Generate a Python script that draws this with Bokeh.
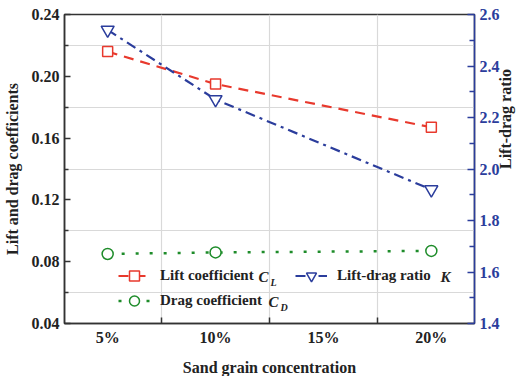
import math
from bokeh.plotting import figure
from bokeh.models import (Range1d, LinearAxis, FixedTicker, Legend, LegendItem,
                          Label, PrintfTickFormatter)
from bokeh.embed import file_html
from bokeh.resources import INLINE

# ---- data ----
conc = [5, 10, 20]
conc_ticks = [5, 10, 15, 20]
conc_labels = ["5%", "10%", "15%", "20%"]
lift = [0.216, 0.195, 0.167]
drag = [0.085, 0.086, 0.087]
ratio = [2.54, 2.27, 1.92]
left_ticks = [0.04, 0.08, 0.12, 0.16, 0.20, 0.24]
left_minor = [0.06, 0.10, 0.14, 0.18, 0.22]
right_ticks = [1.4, 1.6, 1.8, 2.0, 2.2, 2.4, 2.6]
right_minor = [1.5, 1.7, 1.9, 2.1, 2.3, 2.5]
x_minor = [7.5, 12.5, 17.5]

RED = "#e8392d"
BLUE = "#2b3d9c"
GREEN = "#1e8c2a"
AX = "#333333"
TXT = "#222222"
FONT = "Liberation Serif"

FW, FH = 410, 309
X0, X1 = 3, 22
Y0, Y1 = 0.04, 0.24

p = figure(frame_width=FW, frame_height=FH, x_range=Range1d(X0, X1),
           y_range=Range1d(Y0, Y1), output_backend="svg", toolbar_location=None,
           min_border_left=57, min_border_right=42, min_border_top=14,
           min_border_bottom=37)
p.extra_y_ranges = {"k": Range1d(1.4, 2.6)}
p.outline_line_color = AX
p.outline_line_width = 1.5
p.background_fill_color = "white"

# x axis
xa = p.xaxis[0]
xa.ticker = FixedTicker(ticks=conc_ticks, minor_ticks=x_minor)
xa.major_label_overrides = {t: l for t, l in zip(conc_ticks, conc_labels)}
xa.axis_label = "Sand grain concentration"

# left axis
ya = p.yaxis[0]
ya.ticker = FixedTicker(ticks=left_ticks, minor_ticks=left_minor)
ya.formatter = PrintfTickFormatter(format="%.2f")
ya.axis_label = "Lift and drag coefficients"

# right axis
ra = LinearAxis(y_range_name="k",
                ticker=FixedTicker(ticks=right_ticks, minor_ticks=right_minor),
                formatter=PrintfTickFormatter(format="%.1f"),
                axis_label="Lift-drag ratio")
p.add_layout(ra, "right")

for ax in (xa, ya, ra):
    ax.axis_line_width = 1.5
    ax.axis_line_color = AX
    ax.major_tick_line_color = AX
    ax.minor_tick_line_color = AX
    ax.major_tick_line_width = 1.5
    ax.minor_tick_line_width = 1.5
    ax.major_tick_out = 0
    ax.minor_tick_out = 0
    ax.major_tick_in = 6
    ax.minor_tick_in = 4
    ax.major_label_text_font = FONT
    ax.major_label_text_font_style = "bold"
    ax.major_label_text_font_size = "16px"
    ax.major_label_text_color = TXT
    ax.axis_label_text_font = FONT
    ax.axis_label_text_font_style = "bold"
    ax.axis_label_text_font_size = "16px"
    ax.axis_label_text_color = TXT
    ax.major_label_standoff = 5

xa.major_tick_in = 0
xa.minor_tick_in = 6
xa.axis_label_standoff = 10
ya.axis_label_standoff = 8
ra.axis_line_color = BLUE
ra.major_tick_line_color = BLUE
ra.minor_tick_line_color = BLUE
ra.major_label_text_color = BLUE
ra.major_tick_in = 7
ra.minor_tick_in = 5
ra.major_label_standoff = 5
ra.axis_label_standoff = 3
ra.axis_label_orientation = math.pi / 2
ra.axis_label_text_align = "center"

# grids at minor positions
p.xgrid[0].ticker = FixedTicker(ticks=x_minor)
p.ygrid[0].ticker = FixedTicker(ticks=left_minor)
for g in (p.xgrid[0], p.ygrid[0]):
    g.grid_line_color = "#d9d9d9"
    g.grid_line_width = 1.2

# ---- series ----
r_lift = p.line(conc, lift, line_color=RED, line_width=2.2, line_dash="10 7")
s_lift = p.scatter(conc, lift, marker="square", size=10, fill_color="white",
                   line_color=RED, line_width=1.5)
r_drag = p.line(conc, drag, line_color=GREEN, line_width=2.5, line_dash="3 11")
s_drag = p.scatter(conc, drag, marker="circle", size=11, fill_color="white",
                   line_color=GREEN, line_width=1.5)
r_k = p.line(conc, ratio, line_color=BLUE, line_width=2.2, line_dash="10 5 3 5",
             y_range_name="k")
s_k = p.scatter(conc, ratio, marker="inverted_triangle", size=13, fill_color="white",
                line_color=BLUE, line_width=1.5, y_range_name="k")

legend = Legend(items=[
    LegendItem(label="Lift coefficient", renderers=[r_lift, s_lift]),
    LegendItem(label="Drag coefficient", renderers=[r_drag, s_drag]),
    LegendItem(label="Lift-drag ratio", renderers=[r_k, s_k]),
], location=(54, 10), orientation="vertical", ncols=2)
legend.label_text_font = FONT
legend.label_text_font_style = "bold"
legend.label_text_font_size = "15px"
legend.label_text_color = TXT
legend.label_standoff = 10
legend.glyph_width = 32
legend.glyph_height = 25
legend.label_width = 135
legend.label_height = 25
legend.spacing = 0
legend.padding = 0
legend.margin = 0
legend.background_fill_alpha = 0
legend.border_line_alpha = 0
p.add_layout(legend, "center")


def dx(px):
    return X0 + px * (X1 - X0) / FW


def dy(py):
    return Y0 + py * (Y1 - Y0) / FH


def lab(text, px, py, size, italic=True):
    p.add_layout(Label(x=dx(px), y=dy(py), text=text, text_font=FONT,
                       text_font_style="bold italic" if italic else "bold",
                       text_font_size=size, text_color=TXT,
                       text_baseline="middle", text_align="left"))


# legend subscripts / italic symbols
lab("C", 194, 47, "15px")
lab("L", 206, 41, "10px")
lab("C", 204, 22, "15px")
lab("D", 216, 16, "10px")
lab("K", 376, 47, "15px")

open("out.html", "w").write(file_html(p, INLINE))
